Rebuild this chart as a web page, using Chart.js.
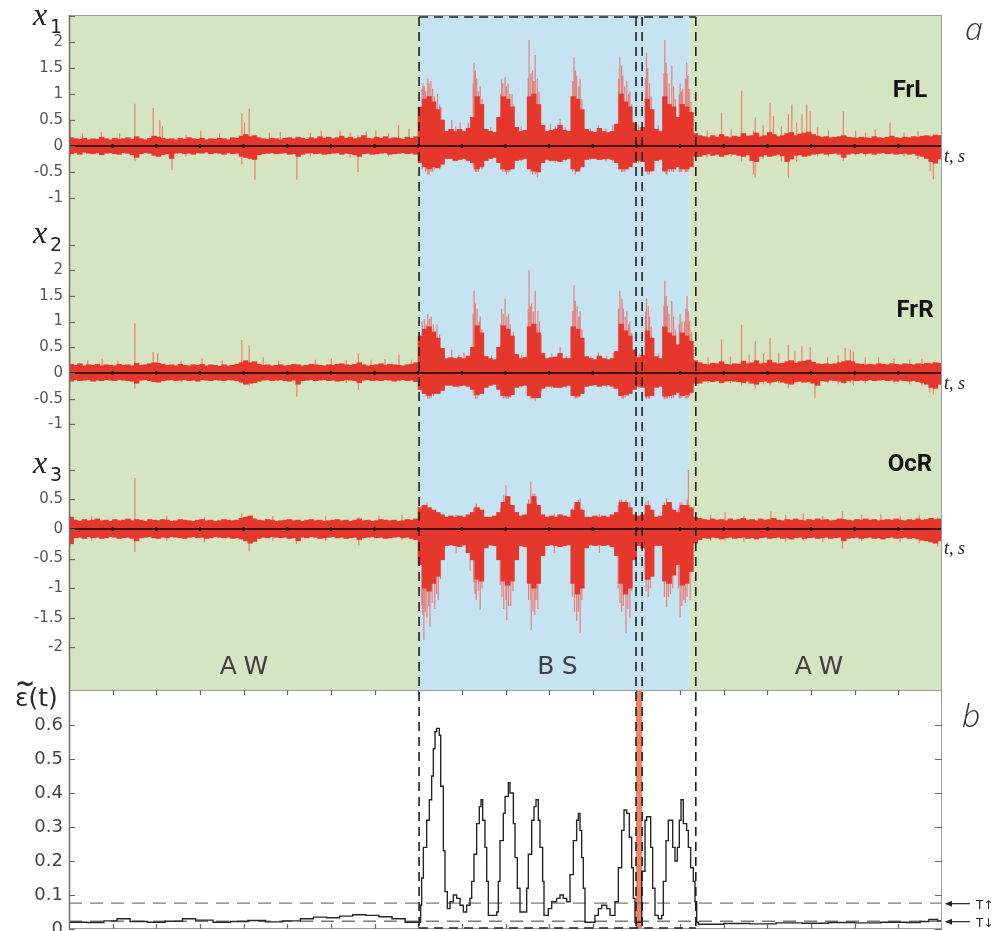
<!DOCTYPE html>
<html>
<head>
<meta charset="utf-8">
<title>EEG channels and epsilon(t)</title>
<script src="https://cdn.jsdelivr.net/npm/chart.js@4.4.1/dist/chart.umd.min.js"></script>
<style>
  html, body { margin: 0; padding: 0; background: #fff; }
</style>
</head>
<body>
<canvas id="eegChart" width="998" height="931"></canvas>
<script>
// time axis runs 0..200 (20 unlabelled intervals); envelopes are read per unit bin
const timeTicks = [10, 20, 30, 40, 50, 60, 70, 80, 90, 100, 110, 120, 130, 140, 150, 160, 170, 180, 190];

const stateNames = ['AW', 'BS', 'AW'];
const stateBounds = [0, 80.2, 142.2, 200];   // background colour changes
const labelBounds = [0, 80.2, 143.6, 200];   // dashed frame of the BS window
const markerLines = [80.2, 129.9, 131.3, 143.6];
const flagRange = [129.9, 131.3];

const channelNames = ['FrL', 'FrR', 'OcR'];
const channelSubs = ['1', '2', '3'];
const channelTagTick = [2.5, 2.5, 1];
const channelTagAt = [2.33, 2.53, 0.95];
const channelNameAt = [1.05, 1.2, 1.08];

const frlTicks = [2, 1.5, 1, 0.5, 0, -0.5, -1];
const frrTicks = [2, 1.5, 1, 0.5, 0, -0.5, -1];
const ocrTicks = [0.5, 0, -0.5, -1, -1.5, -2];
const epsTicks = [0.6, 0.5, 0.4, 0.3, 0.2, 0.1, 0];

// FrL envelope, upper / lower edge of the dense trace
const frlHigh = [
  0.16, 0.14, 0.13, 0.15, 0.12, 0.14, 0.13, 0.17, 0.14, 0.12,
  0.15, 0.13, 0.14, 0.16, 0.13, 0.18, 0.14, 0.12, 0.15, 0.19,
  0.17, 0.15, 0.13, 0.14, 0.12, 0.15, 0.13, 0.16, 0.14, 0.13,
  0.15, 0.12, 0.14, 0.13, 0.15, 0.14, 0.12, 0.16, 0.15, 0.19,
  0.22, 0.18, 0.20, 0.16, 0.14, 0.13, 0.15, 0.14, 0.12, 0.15,
  0.16, 0.14, 0.17, 0.15, 0.13, 0.16, 0.14, 0.18, 0.15, 0.17,
  0.14, 0.16, 0.19, 0.15, 0.17, 0.14, 0.16, 0.20, 0.15, 0.14,
  0.17, 0.15, 0.18, 0.14, 0.16, 0.15, 0.13, 0.17, 0.15, 0.18,
  0.75, 0.90, 0.95, 0.85, 0.70, 0.50, 0.28, 0.32, 0.28, 0.32,
  0.28, 0.34, 0.55, 0.95, 0.80, 0.32, 0.28, 0.26, 0.55, 0.95,
  0.90, 0.75, 0.36, 0.28, 0.30, 0.95, 1.00, 0.80, 0.40, 0.28,
  0.30, 0.32, 0.40, 0.30, 0.28, 0.95, 0.90, 0.70, 0.32, 0.28,
  0.26, 0.34, 0.28, 0.26, 0.28, 0.42, 1.00, 0.85, 0.75, 0.45,
  0.30, 0.36, 0.90, 0.70, 0.32, 0.28, 0.95, 0.80, 0.75, 0.55,
  0.80, 0.75, 0.65, 0.24,
  0.20, 0.18, 0.16, 0.20, 0.17, 0.22, 0.18, 0.16, 0.19, 0.17,
  0.24, 0.19, 0.20, 0.25, 0.18, 0.20, 0.26, 0.22, 0.18, 0.20,
  0.24, 0.26, 0.20, 0.23, 0.25, 0.27, 0.22, 0.19, 0.17, 0.18,
  0.16, 0.17, 0.18, 0.20, 0.17, 0.16, 0.15, 0.17, 0.16, 0.15,
  0.18, 0.16, 0.15, 0.17, 0.19, 0.16, 0.15, 0.17, 0.16, 0.18,
  0.17, 0.19, 0.20, 0.18, 0.21, 0.20
];
const frlLow = [
  -0.15, -0.13, -0.16, -0.12, -0.14, -0.15, -0.13, -0.17, -0.14, -0.13,
  -0.15, -0.16, -0.13, -0.14, -0.17, -0.22, -0.15, -0.13, -0.14, -0.18,
  -0.20, -0.17, -0.15, -0.24, -0.14, -0.13, -0.15, -0.14, -0.16, -0.13,
  -0.14, -0.12, -0.15, -0.13, -0.14, -0.16, -0.13, -0.15, -0.14, -0.20,
  -0.22, -0.24, -0.26, -0.17, -0.15, -0.14, -0.13, -0.15, -0.14, -0.13,
  -0.16, -0.15, -0.20, -0.16, -0.14, -0.13, -0.15, -0.14, -0.16, -0.15,
  -0.14, -0.13, -0.16, -0.14, -0.15, -0.17, -0.20, -0.15, -0.14, -0.16,
  -0.15, -0.14, -0.13, -0.16, -0.15, -0.14, -0.13, -0.15, -0.14, -0.16,
  -0.32, -0.40, -0.44, -0.40, -0.42, -0.35, -0.24, -0.24, -0.28, -0.26,
  -0.24, -0.28, -0.32, -0.44, -0.40, -0.28, -0.24, -0.22, -0.32, -0.44,
  -0.46, -0.44, -0.28, -0.26, -0.24, -0.44, -0.48, -0.50, -0.32, -0.26,
  -0.28, -0.28, -0.30, -0.26, -0.24, -0.44, -0.48, -0.40, -0.26, -0.24,
  -0.24, -0.26, -0.25, -0.24, -0.26, -0.32, -0.44, -0.44, -0.40, -0.32,
  -0.28, -0.30, -0.48, -0.48, -0.28, -0.26, -0.48, -0.44, -0.44, -0.40,
  -0.44, -0.44, -0.40, -0.20,
  -0.20, -0.17, -0.15, -0.18, -0.16, -0.20, -0.17, -0.15, -0.16, -0.18,
  -0.20, -0.17, -0.28, -0.30, -0.20, -0.17, -0.20, -0.18, -0.16, -0.19,
  -0.30, -0.25, -0.18, -0.17, -0.20, -0.18, -0.16, -0.15, -0.14, -0.16,
  -0.15, -0.14, -0.16, -0.22, -0.16, -0.14, -0.15, -0.13, -0.15, -0.14,
  -0.16, -0.14, -0.13, -0.15, -0.14, -0.16, -0.15, -0.14, -0.16, -0.15,
  -0.18, -0.20, -0.24, -0.30, -0.33, -0.25
];
// single sharp deflections: [t, low, high]
const frlSpikes = [
  [0.3, -0.2, 0.5], [3.1, -0.1, 0.24], [7.4, -0.12, 0.27], [11.6, -0.14, 0.24], [15.1, -0.3, 0.81],
  [19.3, -0.15, 0.73], [20.8, -0.2, 0.5], [21.4, -0.1, 0.38], [23.6, -0.46, 0.12], [26.8, -0.2, 0.22],
  [30.2, -0.12, 0.3], [34.5, -0.1, 0.24], [39.6, -0.35, 0.63], [40.2, -0.2, 0.45], [41.3, -0.25, 0.72],
  [42.6, -0.65, 0.2], [45.9, -0.15, 0.26], [48.4, -0.1, 0.27], [52.2, -0.65, 0.15], [55.3, -0.2, 0.25],
  [57.8, -0.1, 0.3], [62.1, -0.12, 0.3], [64.4, -0.22, 0.26], [66.2, -0.5, 0.2], [68.1, -0.12, 0.28],
  [70.3, -0.1, 0.3], [73.2, -0.2, 0.24], [75.5, -0.15, 0.4], [77.9, -0.1, 0.33],
  [80.9, -0.45, 1.1], [81.1, -0.4, 1.2], [81.4, -0.4, 1.15], [81.7, -0.5, 1.05], [82.2, -0.55, 1.3],
  [82.5, -0.55, 1.2], [82.9, -0.5, 1.25], [83.3, -0.5, 1.1], [83.7, -0.45, 0.95], [84.4, -0.4, 1.0],
  [84.9, -0.45, 0.8], [85.2, -0.4, 0.75],
  [87.7, -0.2, 0.5], [88.6, -0.3, 0.38], [89.6, -0.2, 0.45], [91.5, -0.2, 0.45],
  [92.6, -0.4, 1.2], [92.8, -0.45, 1.6], [93.1, -0.5, 1.45], [93.4, -0.5, 1.3], [93.8, -0.5, 1.05],
  [94.2, -0.4, 1.15], [94.6, -0.45, 0.9],
  [96.6, -0.25, 0.36], [98.9, -0.45, 1.0], [99.1, -0.45, 1.28], [99.4, -0.5, 1.2], [99.9, -0.5, 1.32],
  [100.2, -0.55, 1.15], [100.6, -0.5, 1.2], [101.0, -0.5, 1.0], [101.5, -0.45, 1.0], [101.9, -0.4, 0.8],
  [103.6, -0.3, 0.38], [105.2, -0.45, 1.3], [105.4, -0.3, 2.04], [105.8, -0.5, 1.4], [106.2, -0.55, 1.45],
  [106.5, -0.5, 1.25], [106.8, -0.55, 1.75], [107.3, -0.6, 1.3], [107.7, -0.5, 1.05], [108.1, -0.4, 0.8],
  [110.3, -0.3, 0.42], [111.4, -0.32, 0.38], [112.5, -0.3, 0.52], [113.8, -0.3, 0.36],
  [115.4, -0.5, 1.25], [115.7, -0.45, 1.7], [116.0, -0.55, 1.45], [116.3, -0.5, 1.35], [116.8, -0.5, 1.15],
  [117.1, -0.45, 1.3], [117.5, -0.4, 0.9],
  [119.4, -0.28, 0.34], [121.3, -0.25, 0.4], [123.0, -0.3, 0.34], [124.6, -0.3, 0.4],
  [125.9, -0.45, 1.3], [126.2, -0.45, 1.7], [126.6, -0.5, 1.55], [126.9, -0.5, 1.35], [127.3, -0.5, 1.15],
  [127.8, -0.45, 1.25], [128.2, -0.45, 1.0], [128.5, -0.4, 1.05], [128.9, -0.4, 0.8],
  [130.5, -0.32, 0.4], [132.1, -0.5, 1.3], [132.3, -0.5, 1.8], [132.6, -0.55, 1.5], [133.0, -0.55, 1.2],
  [133.4, -0.5, 0.95], [135.0, -0.3, 0.4],
  [136.3, -0.5, 1.4], [136.5, -0.5, 2.04], [136.8, -0.55, 1.6], [137.0, -0.55, 1.4], [137.5, -0.5, 1.2],
  [138.1, -0.5, 1.55], [138.5, -0.5, 1.15], [138.9, -0.45, 0.9],
  [139.8, -0.5, 1.0], [140.0, -0.5, 1.2], [140.3, -0.5, 1.05], [140.6, -0.45, 1.1], [141.2, -0.5, 1.3],
  [141.5, -0.5, 1.6], [141.8, -0.5, 1.35], [142.1, -0.45, 1.1], [142.5, -0.4, 0.85],
  [146.2, -0.22, 0.3], [149.5, -0.2, 0.64], [151.7, -0.2, 0.32], [154.1, -0.3, 1.06], [156.8, -0.55, 0.3],
  [157.2, -0.61, 0.55], [159.0, -0.25, 0.4], [160.6, -0.2, 0.83], [161.4, -0.2, 0.58], [163.2, -0.3, 0.38],
  [164.8, -0.61, 0.61], [165.6, -0.25, 0.8], [166.7, -0.3, 0.45], [167.9, -0.2, 0.61], [169.0, -0.2, 0.8],
  [169.8, -0.2, 0.67], [171.5, -0.2, 0.36], [174.0, -0.2, 0.3], [177.4, -0.29, 0.67], [180.2, -0.18, 0.3],
  [182.5, -0.2, 0.26], [184.7, -0.15, 0.32], [188.1, -0.15, 0.45], [191.3, -0.2, 0.26], [194.5, -0.25, 0.28],
  [197.3, -0.48, 0.2], [198.0, -0.64, 0.22]
];

// FrR
const frrHigh = [
  0.17, 0.15, 0.18, 0.14, 0.16, 0.15, 0.17, 0.14, 0.16, 0.15,
  0.14, 0.17, 0.15, 0.16, 0.14, 0.19, 0.15, 0.16, 0.18, 0.20,
  0.19, 0.17, 0.15, 0.16, 0.14, 0.17, 0.15, 0.14, 0.16, 0.15,
  0.17, 0.14, 0.16, 0.15, 0.13, 0.16, 0.14, 0.15, 0.17, 0.20,
  0.24, 0.20, 0.22, 0.17, 0.15, 0.16, 0.14, 0.15, 0.16, 0.14,
  0.15, 0.17, 0.16, 0.14, 0.15, 0.17, 0.16, 0.15, 0.14, 0.16,
  0.15, 0.17, 0.18, 0.16, 0.15, 0.17, 0.20, 0.16, 0.14, 0.15,
  0.16, 0.18, 0.15, 0.17, 0.16, 0.15, 0.14, 0.16, 0.17, 0.20,
  0.72, 0.85, 0.90, 0.80, 0.68, 0.48, 0.28, 0.30, 0.28, 0.30,
  0.28, 0.33, 0.50, 0.92, 0.78, 0.32, 0.28, 0.26, 0.50, 0.92,
  0.85, 0.72, 0.36, 0.28, 0.30, 0.90, 0.95, 0.78, 0.38, 0.28,
  0.30, 0.31, 0.38, 0.28, 0.28, 0.90, 0.85, 0.68, 0.32, 0.28,
  0.26, 0.33, 0.28, 0.26, 0.28, 0.42, 0.95, 0.82, 0.72, 0.45,
  0.30, 0.34, 0.82, 0.68, 0.32, 0.28, 0.90, 0.78, 0.72, 0.55,
  0.78, 0.72, 0.62, 0.24,
  0.20, 0.17, 0.16, 0.19, 0.18, 0.22, 0.17, 0.16, 0.18, 0.17,
  0.23, 0.18, 0.20, 0.24, 0.18, 0.19, 0.25, 0.20, 0.18, 0.19,
  0.22, 0.24, 0.19, 0.22, 0.23, 0.25, 0.21, 0.18, 0.17, 0.18,
  0.17, 0.18, 0.20, 0.22, 0.24, 0.22, 0.18, 0.17, 0.16, 0.17,
  0.16, 0.18, 0.17, 0.16, 0.18, 0.17, 0.16, 0.18, 0.17, 0.16,
  0.18, 0.17, 0.19, 0.18, 0.20, 0.19
];
const frrLow = [
  -0.16, -0.13, -0.15, -0.14, -0.13, -0.16, -0.14, -0.15, -0.13, -0.14,
  -0.15, -0.13, -0.14, -0.15, -0.16, -0.20, -0.14, -0.13, -0.15, -0.17,
  -0.18, -0.15, -0.14, -0.13, -0.15, -0.14, -0.13, -0.15, -0.14, -0.16,
  -0.13, -0.14, -0.15, -0.13, -0.14, -0.15, -0.13, -0.14, -0.15, -0.18,
  -0.22, -0.20, -0.19, -0.16, -0.14, -0.13, -0.15, -0.14, -0.13, -0.15,
  -0.16, -0.14, -0.22, -0.15, -0.14, -0.13, -0.15, -0.14, -0.13, -0.15,
  -0.14, -0.16, -0.15, -0.13, -0.14, -0.15, -0.19, -0.14, -0.13, -0.15,
  -0.14, -0.15, -0.13, -0.14, -0.16, -0.14, -0.13, -0.15, -0.14, -0.17,
  -0.32, -0.40, -0.44, -0.40, -0.40, -0.34, -0.24, -0.24, -0.26, -0.25,
  -0.24, -0.26, -0.32, -0.42, -0.40, -0.28, -0.24, -0.22, -0.32, -0.44,
  -0.45, -0.42, -0.28, -0.25, -0.24, -0.44, -0.48, -0.48, -0.30, -0.26,
  -0.26, -0.28, -0.28, -0.26, -0.24, -0.44, -0.45, -0.40, -0.26, -0.24,
  -0.23, -0.26, -0.24, -0.23, -0.26, -0.30, -0.44, -0.42, -0.40, -0.32,
  -0.26, -0.28, -0.45, -0.44, -0.28, -0.26, -0.45, -0.44, -0.42, -0.38,
  -0.44, -0.42, -0.38, -0.20,
  -0.20, -0.16, -0.15, -0.17, -0.15, -0.19, -0.16, -0.15, -0.16, -0.17,
  -0.19, -0.16, -0.20, -0.22, -0.17, -0.16, -0.19, -0.17, -0.15, -0.18,
  -0.20, -0.22, -0.17, -0.16, -0.18, -0.17, -0.20, -0.24, -0.15, -0.16,
  -0.14, -0.15, -0.16, -0.19, -0.15, -0.14, -0.15, -0.14, -0.15, -0.13,
  -0.15, -0.14, -0.13, -0.15, -0.14, -0.16, -0.14, -0.15, -0.16, -0.15,
  -0.17, -0.19, -0.22, -0.28, -0.30, -0.22
];
const frrSpikes = [
  [0.2, -0.3, 0.42], [4.3, -0.12, 0.25], [7.6, -0.12, 0.28], [11.2, -0.14, 0.24], [15.1, -0.3, 0.97],
  [19.3, -0.1, 0.41], [20.3, -0.15, 0.38], [25.7, -0.18, 0.24], [30.5, -0.12, 0.28], [35.1, -0.15, 0.25],
  [39.6, -0.2, 0.64], [41.3, -0.25, 0.54], [44.5, -0.1, 0.3], [48.0, -0.15, 0.24], [52.2, -0.46, 0.1],
  [56.4, -0.18, 0.26], [60.1, -0.1, 0.28], [63.5, -0.2, 0.25], [66.3, -0.33, 0.38], [69.2, -0.15, 0.26],
  [72.4, -0.1, 0.27], [75.6, -0.15, 0.36], [78.4, -0.12, 0.26],
  [80.9, -0.4, 1.0], [81.4, -0.4, 1.05], [81.8, -0.45, 0.95], [82.2, -0.5, 1.15], [82.6, -0.5, 1.05],
  [83.0, -0.48, 1.1], [83.5, -0.45, 0.95], [84.3, -0.4, 0.95], [84.9, -0.4, 0.75],
  [87.7, -0.2, 0.45], [89.3, -0.28, 0.36], [90.5, -0.2, 0.4],
  [92.6, -0.4, 1.15], [92.8, -0.45, 1.6], [93.1, -0.5, 1.35], [93.5, -0.5, 1.25], [93.9, -0.45, 1.0],
  [94.2, -0.4, 1.1], [94.6, -0.4, 0.85],
  [96.8, -0.24, 0.34], [98.9, -0.45, 0.95], [99.1, -0.45, 1.25], [99.5, -0.5, 1.15], [99.9, -0.5, 1.45],
  [100.3, -0.5, 1.1], [100.7, -0.5, 1.15], [101.1, -0.48, 0.95], [101.8, -0.4, 0.8],
  [103.7, -0.28, 0.36], [105.2, -0.45, 1.25], [105.4, -0.35, 2.0], [105.7, -0.5, 1.3], [106.0, -0.5, 1.35],
  [106.4, -0.5, 1.2], [106.8, -0.55, 1.6], [107.4, -0.5, 1.2], [107.8, -0.45, 1.0], [108.2, -0.38, 0.75],
  [110.6, -0.3, 0.38], [112.5, -0.3, 0.5], [113.9, -0.28, 0.34],
  [115.4, -0.45, 1.2], [115.7, -0.45, 1.7], [116.0, -0.5, 1.4], [116.4, -0.5, 1.3], [116.8, -0.48, 1.1],
  [117.1, -0.45, 1.2], [117.5, -0.4, 0.85],
  [119.6, -0.26, 0.32], [121.3, -0.25, 0.4], [123.2, -0.28, 0.33], [124.7, -0.3, 0.4],
  [125.9, -0.45, 1.25], [126.2, -0.45, 1.6], [126.7, -0.5, 1.45], [127.0, -0.5, 1.25], [127.4, -0.48, 1.1],
  [127.8, -0.45, 1.2], [128.2, -0.45, 0.95], [128.5, -0.4, 1.0], [128.9, -0.38, 0.78],
  [130.6, -0.3, 0.38], [132.1, -0.48, 1.2], [132.3, -0.5, 1.45], [132.7, -0.5, 1.3], [133.0, -0.5, 1.1],
  [133.4, -0.45, 0.9], [135.1, -0.28, 0.38],
  [136.3, -0.5, 1.3], [136.5, -0.5, 1.8], [136.8, -0.5, 1.5], [137.1, -0.5, 1.3], [137.5, -0.48, 1.15],
  [138.1, -0.5, 1.4], [138.5, -0.48, 1.1], [138.9, -0.42, 0.85],
  [139.8, -0.48, 0.95], [140.0, -0.5, 1.15], [140.4, -0.48, 1.0], [141.0, -0.45, 1.0], [141.3, -0.5, 1.25],
  [141.6, -0.5, 1.5], [141.9, -0.48, 1.2], [142.2, -0.45, 1.0], [142.6, -0.4, 0.8],
  [146.4, -0.2, 0.3], [149.5, -0.2, 0.65], [151.5, -0.2, 0.32], [154.1, -0.25, 0.94], [155.8, -0.22, 0.36],
  [157.2, -0.3, 0.62], [159.1, -0.22, 0.38], [160.6, -0.25, 0.68], [162.6, -0.2, 0.4], [164.8, -0.3, 0.55],
  [166.3, -0.2, 0.42], [167.9, -0.2, 0.52], [169.8, -0.2, 0.5], [170.9, -0.49, 0.2], [173.8, -0.2, 0.3],
  [176.2, -0.22, 0.34], [177.8, -0.2, 0.49], [179.0, -0.2, 0.45], [179.7, -0.25, 0.42], [182.4, -0.2, 0.3],
  [185.5, -0.15, 0.3], [189.0, -0.2, 0.28], [192.6, -0.22, 0.26], [195.4, -0.25, 0.28],
  [197.2, -0.38, 0.2], [198.0, -0.42, 0.22]
];

// OcR
const ocrHigh = [
  0.20, 0.15, 0.13, 0.16, 0.14, 0.15, 0.17, 0.14, 0.15, 0.13,
  0.16, 0.14, 0.15, 0.17, 0.14, 0.16, 0.15, 0.13, 0.16, 0.15,
  0.14, 0.16, 0.15, 0.13, 0.14, 0.16, 0.15, 0.14, 0.13, 0.15,
  0.16, 0.14, 0.15, 0.13, 0.14, 0.16, 0.15, 0.14, 0.15, 0.18,
  0.20, 0.22, 0.17, 0.15, 0.14, 0.16, 0.15, 0.13, 0.14, 0.15,
  0.16, 0.14, 0.15, 0.13, 0.15, 0.16, 0.14, 0.15, 0.13, 0.14,
  0.15, 0.16, 0.14, 0.15, 0.13, 0.15, 0.17, 0.14, 0.15, 0.13,
  0.14, 0.16, 0.15, 0.14, 0.15, 0.13, 0.14, 0.16, 0.15, 0.17,
  0.36, 0.40, 0.36, 0.32, 0.28, 0.24, 0.20, 0.22, 0.20, 0.22,
  0.20, 0.24, 0.28, 0.36, 0.32, 0.20, 0.20, 0.22, 0.28, 0.45,
  0.55, 0.40, 0.28, 0.22, 0.24, 0.42, 0.55, 0.40, 0.24, 0.20,
  0.22, 0.20, 0.24, 0.22, 0.20, 0.32, 0.45, 0.32, 0.20, 0.20,
  0.22, 0.20, 0.22, 0.20, 0.24, 0.28, 0.45, 0.45, 0.36, 0.24,
  0.22, 0.24, 0.40, 0.32, 0.20, 0.22, 0.40, 0.45, 0.32, 0.28,
  0.40, 0.40, 0.36, 0.20,
  0.18, 0.16, 0.15, 0.17, 0.15, 0.16, 0.14, 0.17, 0.15, 0.16,
  0.18, 0.15, 0.16, 0.14, 0.17, 0.15, 0.16, 0.18, 0.15, 0.14,
  0.16, 0.15, 0.17, 0.15, 0.14, 0.16, 0.15, 0.17, 0.15, 0.16,
  0.14, 0.15, 0.17, 0.16, 0.15, 0.14, 0.16, 0.15, 0.17, 0.15,
  0.16, 0.14, 0.15, 0.16, 0.15, 0.17, 0.15, 0.14, 0.16, 0.15,
  0.17, 0.15, 0.16, 0.18, 0.16, 0.17
];
const ocrLow = [
  -0.25, -0.15, -0.14, -0.16, -0.13, -0.15, -0.14, -0.16, -0.15, -0.13,
  -0.14, -0.16, -0.15, -0.14, -0.16, -0.20, -0.15, -0.14, -0.13, -0.15,
  -0.16, -0.14, -0.15, -0.13, -0.14, -0.15, -0.16, -0.14, -0.13, -0.15,
  -0.14, -0.16, -0.15, -0.13, -0.14, -0.15, -0.14, -0.16, -0.15, -0.17,
  -0.20, -0.24, -0.21, -0.16, -0.14, -0.15, -0.13, -0.14, -0.15, -0.14,
  -0.16, -0.15, -0.20, -0.14, -0.15, -0.13, -0.14, -0.16, -0.15, -0.14,
  -0.13, -0.15, -0.14, -0.16, -0.15, -0.14, -0.18, -0.15, -0.14, -0.13,
  -0.15, -0.14, -0.16, -0.15, -0.14, -0.13, -0.15, -0.14, -0.16, -0.18,
  -0.60, -1.00, -1.05, -0.92, -0.80, -0.52, -0.28, -0.27, -0.28, -0.30,
  -0.27, -0.40, -0.52, -0.85, -0.88, -0.32, -0.27, -0.28, -0.52, -0.88,
  -0.95, -0.88, -0.52, -0.28, -0.30, -0.92, -1.00, -0.92, -0.45, -0.28,
  -0.27, -0.28, -0.30, -0.28, -0.27, -0.92, -1.10, -1.00, -0.32, -0.27,
  -0.28, -0.27, -0.28, -0.27, -0.30, -0.45, -0.92, -1.10, -1.00, -0.52,
  -0.28, -0.32, -0.85, -0.80, -0.28, -0.28, -0.88, -0.92, -0.78, -0.60,
  -0.95, -0.92, -0.72, -0.24,
  -0.18, -0.15, -0.16, -0.14, -0.15, -0.17, -0.15, -0.14, -0.16, -0.15,
  -0.14, -0.16, -0.15, -0.17, -0.15, -0.14, -0.16, -0.15, -0.14, -0.16,
  -0.15, -0.17, -0.15, -0.14, -0.16, -0.15, -0.14, -0.16, -0.15, -0.14,
  -0.16, -0.15, -0.14, -0.20, -0.16, -0.15, -0.14, -0.16, -0.15, -0.14,
  -0.16, -0.15, -0.17, -0.15, -0.14, -0.16, -0.15, -0.14, -0.16, -0.15,
  -0.17, -0.19, -0.20, -0.22, -0.24, -0.20
];
const ocrSpikes = [
  [0.2, -0.3, 0.25], [5.2, -0.2, 0.22], [15.1, -0.39, 0.86], [22.4, -0.2, 0.22], [31.0, -0.22, 0.2],
  [39.6, -0.12, 0.27], [41.3, -0.38, 0.2], [46.7, -0.2, 0.22], [52.1, -0.25, 0.1], [58.8, -0.2, 0.22],
  [66.4, -0.28, 0.2], [71.0, -0.1, 0.22], [76.3, -0.2, 0.24],
  [80.8, -1.3, 0.4], [81.0, -1.45, 0.35], [81.3, -1.87, 0.4], [81.6, -1.4, 0.4], [82.0, -1.5, 0.45],
  [82.4, -1.3, 0.35], [82.7, -1.65, 0.35], [83.2, -1.25, 0.3], [83.8, -1.35, 0.3], [84.2, -1.1, 0.28],
  [84.6, -1.2, 0.25], [85.1, -0.85, 0.25],
  [88.7, -0.4, 0.24], [91.9, -0.7, 0.2], [92.7, -0.9, 0.35], [93.0, -1.1, 0.38], [93.3, -1.2, 0.43],
  [93.8, -1.05, 0.35], [94.2, -1.37, 0.3], [94.6, -1.0, 0.3],
  [98.8, -0.95, 0.35], [99.2, -1.15, 0.45], [99.6, -1.35, 0.57], [100.1, -1.2, 0.74], [100.3, -1.54, 0.5],
  [100.7, -1.3, 0.5], [101.2, -1.3, 0.4], [101.7, -1.05, 0.35],
  [105.3, -1.2, 0.5], [105.8, -1.2, 0.8], [105.9, -1.71, 0.5], [106.3, -1.4, 0.6], [106.7, -1.45, 0.6],
  [107.0, -1.2, 0.45], [107.4, -1.35, 0.4], [107.9, -0.9, 0.3],
  [111.2, -0.4, 0.26], [115.3, -1.15, 0.35], [115.8, -1.4, 0.45], [116.3, -1.55, 0.45], [116.7, -1.4, 0.5],
  [117.1, -1.76, 0.52], [117.5, -1.2, 0.35],
  [121.5, -0.4, 0.26], [125.8, -1.0, 0.4], [126.2, -1.25, 0.5], [126.6, -1.4, 0.5], [127.0, -1.3, 0.45],
  [127.6, -1.76, 0.5], [128.0, -1.35, 0.45], [128.5, -1.5, 0.45], [128.9, -1.05, 0.35],
  [132.2, -1.05, 0.45], [132.7, -1.15, 0.48], [133.2, -1.0, 0.4],
  [136.4, -1.15, 0.45], [136.9, -1.32, 0.52], [137.3, -1.15, 0.45], [137.8, -1.1, 0.4], [138.3, -1.0, 0.35],
  [139.6, -1.0, 0.35], [140.0, -1.49, 0.45], [140.4, -1.3, 0.45], [140.8, -1.2, 0.4], [141.2, -1.25, 0.4],
  [141.6, -1.15, 0.5], [141.9, -0.9, 1.0], [142.3, -1.2, 0.3],
  [147.0, -0.2, 0.24], [150.3, -0.2, 0.28], [154.6, -0.22, 0.22], [160.8, -0.15, 0.3], [164.2, -0.22, 0.24],
  [168.2, -0.2, 0.27], [172.7, -0.22, 0.22], [177.2, -0.33, 0.3], [181.6, -0.2, 0.24], [186.0, -0.15, 0.25],
  [190.4, -0.22, 0.22], [194.8, -0.24, 0.24], [199.0, -0.3, 0.2]
];

// panel b: epsilon(t), step curve
const epsTime = [
  0, 4, 8, 11, 14, 18, 22, 26, 29, 33, 37, 41, 45, 49, 53, 56, 59, 62, 65, 68, 71, 74, 77,
  80.26, 80.56, 80.79, 81.18, 81.94, 82.55, 83.08, 83.47, 83.85, 84.23, 84.84, 85.15, 85.76, 86.14,
  86.67, 87.28, 88.05, 88.81, 89.58, 90.34, 91.10, 91.87, 92.25, 92.78, 93.39, 94.0, 94.39, 94.77,
  95.30, 95.69, 96.07, 97.21, 97.98, 98.36, 98.74, 99.5, 99.9, 100.65, 101.03, 101.8, 102.18, 102.71,
  103.32, 104.24, 104.85, 105.23, 106.0, 106.53, 106.99, 107.52, 107.9, 108.51, 108.82, 109.43,
  109.81, 110.58, 111.72, 112.48, 113.25, 114.01, 114.78, 115.54, 116.3, 116.69, 117.07, 117.45,
  117.83, 118.21, 118.98, 119.74, 120.5, 121.27, 122.03, 123.18, 123.94, 125.08, 125.85, 126.61,
  127.15, 127.76, 128.37, 128.9, 129.29, 129.67, 130.81, 131.2, 131.96, 132.34, 132.95, 133.26,
  133.71, 134.25, 135.01, 135.78, 136.16, 136.77, 137.3, 137.84, 138.3, 138.83, 139.37, 139.82,
  140.21, 140.74, 141.5, 141.89, 142.42, 143.03, 143.41, 143.8, 144.18,
  150, 156, 162, 168, 174, 180, 186, 192, 195, 197, 199, 200
];
const epsValue = [
  0.02, 0.019, 0.024, 0.03, 0.022, 0.02, 0.023, 0.03, 0.026, 0.02, 0.022, 0.025, 0.021, 0.024,
  0.03, 0.035, 0.033, 0.038, 0.042, 0.04, 0.036, 0.03, 0.02,
  0.02, 0.07, 0.15, 0.24, 0.32, 0.38, 0.45, 0.53, 0.58, 0.59, 0.57, 0.42, 0.23, 0.11,
  0.06, 0.08, 0.10, 0.09, 0.07, 0.05, 0.07, 0.09, 0.14, 0.22, 0.31, 0.36, 0.38, 0.32,
  0.24, 0.14, 0.04, 0.04, 0.05, 0.14, 0.26, 0.34, 0.39, 0.43, 0.40, 0.31, 0.21, 0.12,
  0.05, 0.05, 0.12, 0.22, 0.32, 0.36, 0.38, 0.32, 0.24, 0.14, 0.04, 0.04,
  0.06, 0.08, 0.09, 0.10, 0.09, 0.08, 0.16, 0.26, 0.32, 0.34, 0.29, 0.21,
  0.12, 0.02, 0.02, 0.02, 0.04, 0.06, 0.07, 0.06, 0.04, 0.08, 0.18, 0.29,
  0.35, 0.34, 0.27, 0.18, 0.09, 0.02, 0.02, 0.17, 0.32, 0.33, 0.33, 0.24,
  0.12, 0.04, 0.03, 0.04, 0.14, 0.26, 0.32, 0.32, 0.24, 0.20, 0.24, 0.32,
  0.38, 0.31, 0.29, 0.24, 0.18, 0.14, 0.08, 0.02, 0.014,
  0.016, 0.015, 0.018, 0.017, 0.019, 0.018, 0.02, 0.019, 0.022, 0.028, 0.024, 0.024
];
const thresholdUp = 0.076;
const thresholdDown = 0.023;
const thresholdNames = ['T\u2191', 'T\u2193'];

// ---- build datasets ----
const coreRed = '#e5372c';
const spikeRed = 'rgba(238, 100, 90, 0.78)';

function envelope(high, low) {
  return high.map((h, i) => ({ x: i + 0.5, y: [low[i], h] }));
}
function spikeTrace(spikes) {
  const pts = [];
  spikes.forEach(([t, lo, hi]) => {
    pts.push({ x: t, y: lo }, { x: t, y: hi }, { x: t, y: null });
  });
  return pts;
}
function flat(v) {
  return [{ x: 0, y: v }, { x: 200, y: v }];
}

const channelAxes = ['y1', 'y2', 'y3'];
const channelData = [
  [frlHigh, frlLow, frlSpikes],
  [frrHigh, frrLow, frrSpikes],
  [ocrHigh, ocrLow, ocrSpikes]
];

const datasets = [];
channelData.forEach(([hi, lo, sp], k) => {
  datasets.push({
    type: 'line', label: channelNames[k] + ' spikes', data: spikeTrace(sp), yAxisID: channelAxes[k],
    borderColor: spikeRed, borderWidth: 1.2, pointRadius: 0, order: 6
  });
  datasets.push({
    type: 'bar', label: channelNames[k], data: envelope(hi, lo), yAxisID: channelAxes[k],
    backgroundColor: coreRed, borderWidth: 0, grouped: false, barThickness: 4.7, order: 5
  });
  datasets.push({
    type: 'line', label: channelNames[k] + ' axis', data: flat(0), yAxisID: channelAxes[k],
    borderColor: 'rgba(45, 12, 10, 0.9)', borderWidth: 1.8, pointRadius: 0, order: 1
  });
});
datasets.push({
  type: 'line', label: 'T up', data: flat(thresholdUp), yAxisID: 'y4',
  borderColor: '#7a7a7a', borderWidth: 1.4, borderDash: [13, 8], pointRadius: 0, order: 3
});
datasets.push({
  type: 'line', label: 'T down', data: flat(thresholdDown), yAxisID: 'y4',
  borderColor: '#7a7a7a', borderWidth: 1.4, borderDash: [13, 8], pointRadius: 0, order: 3
});
datasets.push({
  type: 'line', label: 'epsilon', data: epsTime.map((t, i) => ({ x: t, y: epsValue[i] })), yAxisID: 'y4',
  borderColor: '#262626', borderWidth: 1.4, pointRadius: 0, stepped: true, order: 2
});

function valueAxis(ticks, min, max, weight, stackWeight, fontSize, color) {
  return {
    type: 'linear', position: 'left', stack: 'panels', stackWeight, weight, min, max,
    grid: { display: false, drawTicks: false }, border: { display: false },
    afterBuildTicks: axis => { axis.ticks = ticks.map(v => ({ value: v })); },
    afterFit: axis => { axis.width = 69; axis.paddingTop = 0; axis.paddingBottom = 0; },
    ticks: {
      autoSkip: false, padding: 6, color,
      font: { family: 'DejaVu Sans', size: fontSize },
      callback: v => String(v)
    }
  };
}

// ---- decorations: state backgrounds, frames, inner ticks, labels ----
const decor = {
  id: 'decor',
  beforeDatasetsDraw(chart) {
    const { ctx, scales: { x, y1, y3, y4 } } = chart;
    ctx.save();
    for (let i = 0; i < stateNames.length; i++) {
      const a = x.getPixelForValue(stateBounds[i]);
      const b = x.getPixelForValue(stateBounds[i + 1]);
      ctx.fillStyle = stateNames[i] === 'BS' ? '#c6e3f2' : '#d6e5c1';
      ctx.fillRect(a, y1.top, b - a, y3.bottom - y1.top);
    }
    const f0 = x.getPixelForValue(flagRange[0]);
    const f1 = x.getPixelForValue(flagRange[1]);
    ctx.fillStyle = '#f2825f';
    ctx.fillRect(f0, y4.top, f1 - f0, y4.bottom - y4.top);
    ctx.restore();
  },
  afterDatasetsDraw(chart) {
    const { ctx, scales } = chart;
    const { x, y1, y2, y3, y4 } = scales;
    const L = x.left, R = x.right;
    ctx.save();

    // frames
    ctx.strokeStyle = '#9c9c9c';
    ctx.lineWidth = 1;
    ctx.strokeRect(L + 0.5, y1.top + 0.5, R - L - 1, y3.bottom - y1.top);
    ctx.strokeRect(L + 0.5, y4.top + 0.5, R - L - 1, y4.bottom - y4.top - 1);
    ctx.strokeStyle = '#6f6f6f';
    ctx.lineWidth = 1.5;
    ctx.beginPath();
    ctx.moveTo(L + 0.5, y1.top); ctx.lineTo(L + 0.5, y4.bottom);
    ctx.stroke();

    // inner ticks on the channel axes
    ctx.strokeStyle = '#6a6a6a';
    ctx.lineWidth = 1.2;
    [[y1, frlTicks], [y2, frrTicks], [y3, ocrTicks]].forEach(([ax, list], k) => {
      list.concat([channelTagTick[k]]).forEach(v => {
        const py = Math.round(ax.getPixelForValue(v)) + 0.5;
        ctx.beginPath(); ctx.moveTo(L, py); ctx.lineTo(L + 6, py); ctx.stroke();
      });
    });
    // panel b ticks, both sides and top/bottom
    epsTicks.forEach(v => {
      const py = Math.round(y4.getPixelForValue(v)) + 0.5;
      ctx.beginPath();
      ctx.moveTo(L, py); ctx.lineTo(L + 6, py);
      ctx.moveTo(R - 7, py); ctx.lineTo(R, py);
      ctx.stroke();
    });
    timeTicks.forEach(t => {
      const px = Math.round(x.getPixelForValue(t)) + 0.5;
      ctx.beginPath();
      ctx.moveTo(px, y4.top); ctx.lineTo(px, y4.top + 5);
      ctx.moveTo(px, y4.bottom); ctx.lineTo(px, y4.bottom - 5);
      ctx.stroke();
    });
    // tick dots along the three time axes
    ctx.fillStyle = '#1a1a1a';
    [y1, y2, y3].forEach(ax => {
      const py = ax.getPixelForValue(0);
      timeTicks.forEach(t => {
        const px = x.getPixelForValue(t);
        ctx.fillRect(px - 1, py - 2, 2, 4);
      });
    });

    // dashed window markers
    ctx.strokeStyle = '#1f1f1f';
    ctx.lineWidth = 1.6;
    ctx.setLineDash([9, 6]);
    markerLines.forEach(t => {
      const px = x.getPixelForValue(t);
      ctx.beginPath(); ctx.moveTo(px, y1.top + 2); ctx.lineTo(px, y4.bottom - 1); ctx.stroke();
    });
    const w0 = x.getPixelForValue(markerLines[0]);
    const w1 = x.getPixelForValue(markerLines[3]);
    ctx.beginPath();
    ctx.moveTo(w0, y1.top + 2); ctx.lineTo(w1, y1.top + 2);
    ctx.moveTo(w0, y4.bottom - 1); ctx.lineTo(w1, y4.bottom - 1);
    ctx.stroke();
    ctx.setLineDash([]);

    // state labels
    ctx.fillStyle = '#404040';
    ctx.font = '25px "DejaVu Sans"';
    ctx.textAlign = 'center';
    ctx.textBaseline = 'alphabetic';
    ctx.letterSpacing = '8px';
    stateNames.forEach((name, i) => {
      const cx = (x.getPixelForValue(labelBounds[i]) + x.getPixelForValue(labelBounds[i + 1])) / 2;
      ctx.fillText(name, cx + 4, y3.bottom - 16);
    });
    ctx.letterSpacing = '0px';

    // channel names, variable tags and time labels
    [y1, y2, y3].forEach((ax, k) => {
      ctx.fillStyle = '#111';
      ctx.font = 'bold 24px Roboto';
      ctx.textAlign = 'center';
      ctx.textBaseline = 'middle';
      ctx.fillText(channelNames[k], R - 32 + (k === 1 ? 5 : 0), ax.getPixelForValue(channelNameAt[k]));

      const by = ax.getPixelForValue(channelTagAt[k]);
      ctx.textBaseline = 'alphabetic';
      ctx.textAlign = 'left';
      ctx.fillStyle = '#222';
      ctx.font = 'italic 32px "Liberation Serif"';
      ctx.fillText('x', 33, by);
      ctx.font = '19px "DejaVu Sans"';
      ctx.fillText(channelSubs[k], 50, by + 8);

      ctx.font = 'italic 18px "Liberation Serif"';
      ctx.fillStyle = '#222';
      ctx.fillText('t, s', R + 2, ax.getPixelForValue(0) + (k === 2 ? 25 : 16));
    });

    // epsilon label at the top of panel b, with a broad tilde above the epsilon
    ctx.fillStyle = '#2a2a2a';
    ctx.font = '25px "DejaVu Sans"';
    ctx.textAlign = 'left';
    ctx.fillText('\u03B5(t)', 15, y4.top + 16);
    ctx.font = 'bold 24px "DejaVu Sans"';
    ctx.fillText('~', 15, y4.top + 2);

    // panel letters
    ctx.font = 'italic 300 32px "Open Sans"';
    ctx.fillStyle = '#333';
    ctx.fillText('a', 965, y1.top + 25);
    ctx.fillText('b', 962, y4.top + 37);

    // threshold labels with arrows
    ctx.strokeStyle = '#222';
    ctx.fillStyle = '#222';
    ctx.lineWidth = 1.2;
    ctx.font = '12px "DejaVu Sans"';
    [thresholdUp, thresholdDown].forEach((v, i) => {
      const py = y4.getPixelForValue(v) + 0.5;
      ctx.beginPath(); ctx.moveTo(R + 4, py); ctx.lineTo(R + 28, py); ctx.stroke();
      ctx.beginPath(); ctx.moveTo(R + 3, py); ctx.lineTo(R + 10, py - 3); ctx.lineTo(R + 10, py + 3);
      ctx.closePath(); ctx.fill();
      ctx.fillText(thresholdNames[i], R + 34, py + 5);
    });
    ctx.restore();
  }
};

new Chart(document.getElementById('eegChart'), {
  type: 'bar',
  data: { datasets },
  options: {
    responsive: false,
    animation: false,
    devicePixelRatio: 1,
    layout: { padding: { left: 0, right: 56, top: 15, bottom: 2 } },
    plugins: { legend: { display: false }, tooltip: { enabled: false } },
    scales: {
      x: { type: 'linear', min: 0, max: 200, offset: false, display: false, grid: { offset: false } },
      y1: valueAxis(frlTicks, -1.4615, 2.519, 4, 207, 15, '#555'),
      y2: valueAxis(frrTicks, -1.44, 2.938, 3, 225, 15, '#555'),
      y3: valueAxis(ocrTicks, -2.72, 1.385, 2, 243, 15, '#555'),
      y4: valueAxis(epsTicks, 0, 0.703, 1, 239, 18, '#444')
    }
  },
  plugins: [decor]
});
</script>
</body>
</html>
